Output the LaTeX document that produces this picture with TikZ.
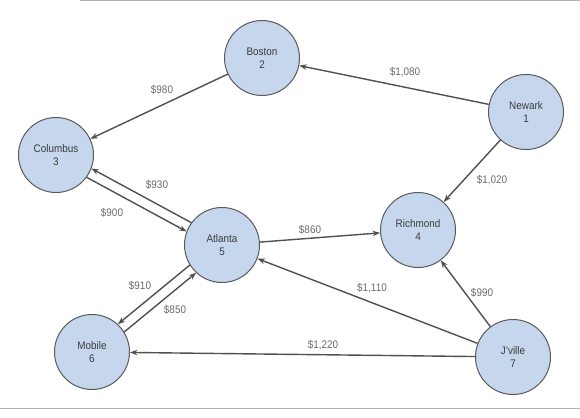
\documentclass[tikz,border=0pt]{standalone}
\usepackage{fontspec}
\setmainfont[FakeStretch=0.9]{Liberation Sans}
\usetikzlibrary{arrows.meta,calc}
\definecolor{cityfill}{RGB}{198,214,236}
\definecolor{cityline}{RGB}{90,90,95}
\definecolor{edgecol}{RGB}{80,80,82}
\definecolor{labcol}{RGB}{105,105,105}
\definecolor{textcol}{RGB}{60,60,62}
\tikzset{
  city/.style={circle, draw=cityline, line width=1pt, fill=cityfill, minimum size=75pt, inner sep=0pt, align=center, font=\fontsize{11}{13.5}\selectfont, text=textcol},
  route/.style={draw=edgecol, line width=1.4pt, -{Stealth[length=7.5pt,width=5.5pt]}},
  twin/.style={route, shorten <=37.5pt, shorten >=37.5pt},
  cost/.style={font=\fontsize{11}{12}\selectfont, text=labcol},
  frameline/.style={draw=gray!60, line width=1pt}
}
\begin{document}
\begin{tikzpicture}[x=1pt,y=-1pt]
\useasboundingbox (0,0) rectangle (580,417);
\draw[frameline] (80,1) -- (580,1);
\draw[frameline] (0,408) -- (580,408);
\node[city] (boston) at (262,58) {Boston\\2};
\node[city] (newark) at (526,112) {Newark\\1};
\node[city] (columbus) at (56,155) {Columbus\\3};
\node[city] (atlanta) at (222,245) {Atlanta\\5};
\node[city] (richmond) at (418,230) {Richmond\\4};
\node[city] (mobile) at (92,352) {Mobile\\6};
\node[city] (jville) at (513,357) {J'ville\\7};
% offset points for the paired routes
\coordinate (cU) at ($(columbus)!5pt!90:(atlanta)$);
\coordinate (aU) at ($(atlanta)!5pt!-90:(columbus)$);
\coordinate (cL) at ($(columbus)!5pt!-90:(atlanta)$);
\coordinate (aL) at ($(atlanta)!5pt!90:(columbus)$);
\coordinate (mU) at ($(mobile)!5pt!90:(atlanta)$);
\coordinate (amU) at ($(atlanta)!5pt!-90:(mobile)$);
\coordinate (mL) at ($(mobile)!5pt!-90:(atlanta)$);
\coordinate (amL) at ($(atlanta)!5pt!90:(mobile)$);
% routes
\draw[route] (newark) -- (boston);
\draw[route] (boston) -- (columbus);
\draw[route] (newark) -- (richmond);
\draw[twin] (aU) -- (cU);
\draw[twin] (cL) -- (aL);
\draw[route] (atlanta) -- (richmond);
\draw[route] (jville) -- (atlanta);
\draw[route] (jville) -- (richmond);
\draw[twin] (amU) -- (mU);
\draw[twin] (mL) -- (amL);
\draw[route] (jville) -- (mobile);
% costs
\node[cost] (l1080) at (405,72) {\$1,080};
\node[cost] (l980) at (162,90) {\$980};
\node[cost] (l1020) at (492,180) {\$1,020};
\node[cost] (l930) at (157,185) {\$930};
\node[cost] (l900) at (112,213) {\$900};
\node[cost] (l860) at (310,230) {\$860};
\node[cost] (l1110) at (372,288) {\$1,110};
\node[cost] (l990) at (482,293) {\$990};
\node[cost] (l910) at (140,286) {\$910};
\node[cost] (l850) at (175,310) {\$850};
\node[cost] (l1220) at (323,345) {\$1,220};
\end{tikzpicture}
\end{document}
